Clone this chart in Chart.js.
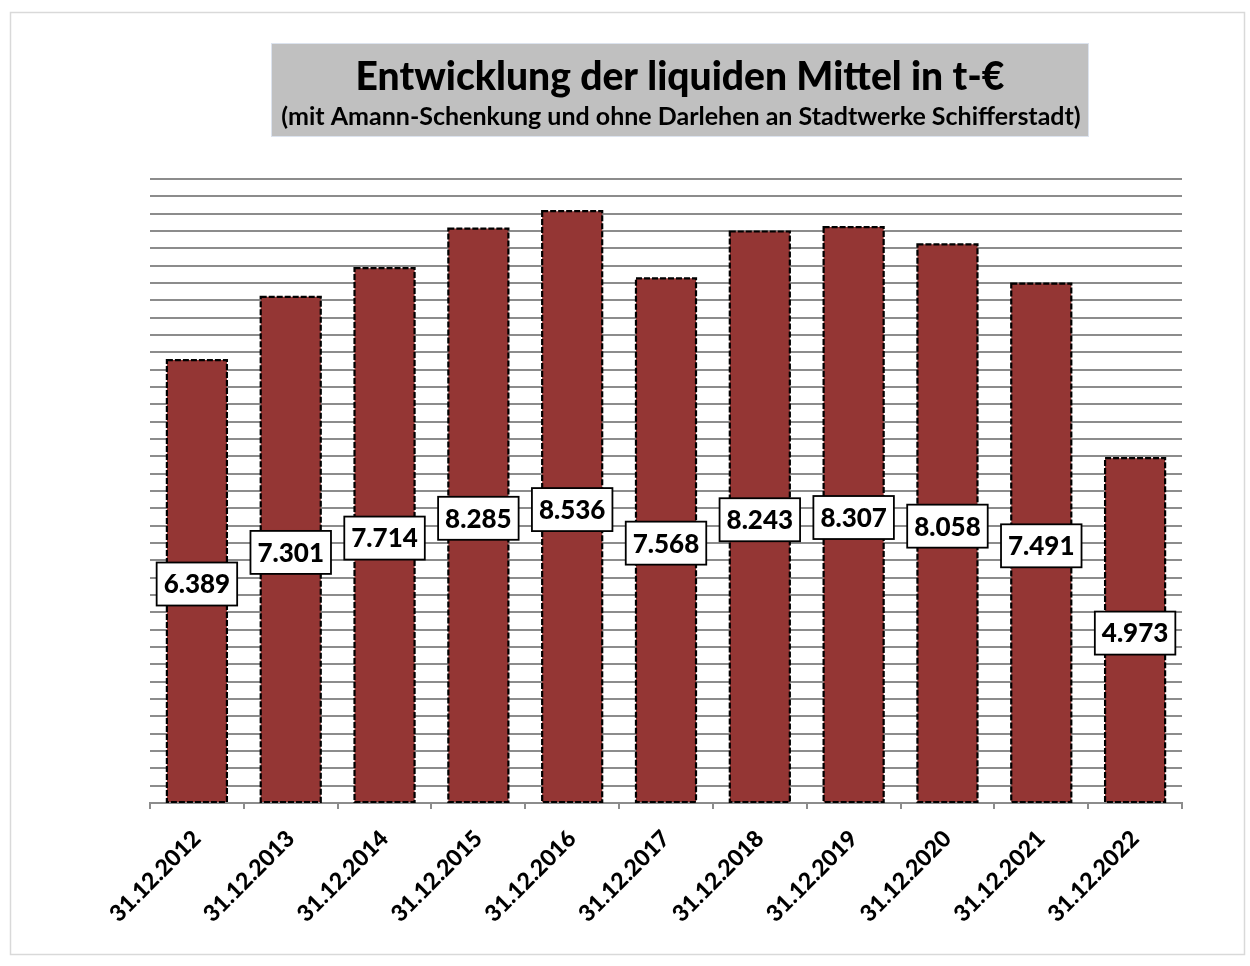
<!DOCTYPE html>
<html>
<head>
<meta charset="utf-8">
<script src="https://cdn.jsdelivr.net/npm/chart.js@4.4.1/dist/chart.umd.min.js"></script>
<style>
  html, body { margin: 0; padding: 0; background: #fff; }
  #wrap { width: 1250px; height: 966px; position: relative; }
</style>
</head>
<body>
<div id="wrap"><canvas id="chart" width="1250" height="966"></canvas></div>
<script>
// Daten (t-€)
const stichtage = ['31.12.2012', '31.12.2013', '31.12.2014', '31.12.2015', '31.12.2016',
  '31.12.2017', '31.12.2018', '31.12.2019', '31.12.2020', '31.12.2021', '31.12.2022'];
const liquideMittel = [6389, 7301, 7714, 8285, 8536, 7568, 8243, 8307, 8058, 7491, 4973];

const titel = 'Entwicklung der liquiden Mittel in t-€';
const untertitel = '(mit Amann-Schenkung und ohne Darlehen an Stadtwerke Schifferstadt)';

const FONT = 'Lato, "Open Sans", sans-serif';

// 6389 -> "6.389"
const fmt = (v) => v.toLocaleString('de-DE');

// Rahmen + grauer Titelkasten
const titleBox = {
  id: 'titleBox',
  beforeDraw: (chart) => {
    const ctx = chart.ctx;
    ctx.save();
    ctx.fillStyle = '#fff';
    ctx.fillRect(0, 0, chart.width, chart.height);
    ctx.strokeStyle = '#d9d9d9';
    ctx.lineWidth = 1.5;
    ctx.strokeRect(10.5, 12.5, 1234, 942);

    ctx.fillStyle = '#c0c0c0';
    ctx.fillRect(271, 43, 818, 94);
    ctx.strokeStyle = '#dce3ee';
    ctx.lineWidth = 1;
    ctx.strokeRect(271.5, 43.5, 817, 93);

    ctx.fillStyle = '#000';
    ctx.textAlign = 'center';
    ctx.textBaseline = 'middle';
    ctx.font = '900 39px ' + FONT;
    ctx.fillText(titel, 680, 77);
    ctx.font = 'bold 25px ' + FONT;
    ctx.fillText(untertitel, 681, 117);
    ctx.restore();
  }
};

// gestrichelte Balkenränder + Wertekästchen
const barExtras = {
  id: 'barExtras',
  afterDatasetsDraw: (chart) => {
    const ctx = chart.ctx;
    const meta = chart.getDatasetMeta(0);
    ctx.save();
    meta.data.forEach((bar) => {
      const left = bar.x - bar.width / 2;
      ctx.strokeStyle = '#000';
      ctx.lineWidth = 2.2;
      ctx.setLineDash([6, 2]);
      ctx.strokeRect(left, bar.y, bar.width, bar.base - bar.y);
    });
    ctx.setLineDash([]);
    ctx.font = '900 26px ' + FONT;
    ctx.textAlign = 'center';
    ctx.textBaseline = 'middle';
    meta.data.forEach((bar, i) => {
      const txt = fmt(liquideMittel[i]);
      const w = ctx.measureText(txt).width + 14;
      const h = 43;
      const cy = (bar.y + bar.base) / 2 + 3;
      ctx.fillStyle = '#fff';
      ctx.fillRect(bar.x - w / 2, cy - h / 2, w, h);
      ctx.strokeStyle = '#000';
      ctx.lineWidth = 1.8;
      ctx.strokeRect(bar.x - w / 2, cy - h / 2, w, h);
      ctx.fillStyle = '#000';
      ctx.fillText(txt, bar.x, cy + 1);
    });
    ctx.restore();
  }
};

new Chart(document.getElementById('chart'), {
  type: 'bar',
  data: {
    labels: stichtage,
    datasets: [{
      data: liquideMittel,
      backgroundColor: '#943634',
      borderWidth: 0,
      barPercentage: 0.64,
      categoryPercentage: 1
    }]
  },
  options: {
    responsive: false,
    animation: false,
    layout: { padding: { left: 150, right: 68, top: 179, bottom: 0 } },
    plugins: {
      legend: { display: false },
      tooltip: { enabled: false },
      title: { display: false }
    },
    scales: {
      y: {
        min: 0,
        max: 9000,
        ticks: { display: false, stepSize: 250 },
        grid: { color: '#8c8c8c', lineWidth: 2, drawTicks: false },
        border: { display: false },
        afterFit: (s) => { s.width = 0; }
      },
      x: {
        offset: true,
        grid: { display: true, drawOnChartArea: false, drawTicks: true, tickLength: 6, color: '#8c8c8c', lineWidth: 2, offset: true },
        border: { display: true, color: '#8c8c8c', width: 2 },
        ticks: {
          color: '#000',
          font: { family: FONT, size: 23, weight: '900' },
          minRotation: 45,
          maxRotation: 45,
          padding: 16
        },
        afterFit: (s) => { s.height = 163; }
      }
    }
  },
  plugins: [titleBox, barExtras]
});
</script>
</body>
</html>
